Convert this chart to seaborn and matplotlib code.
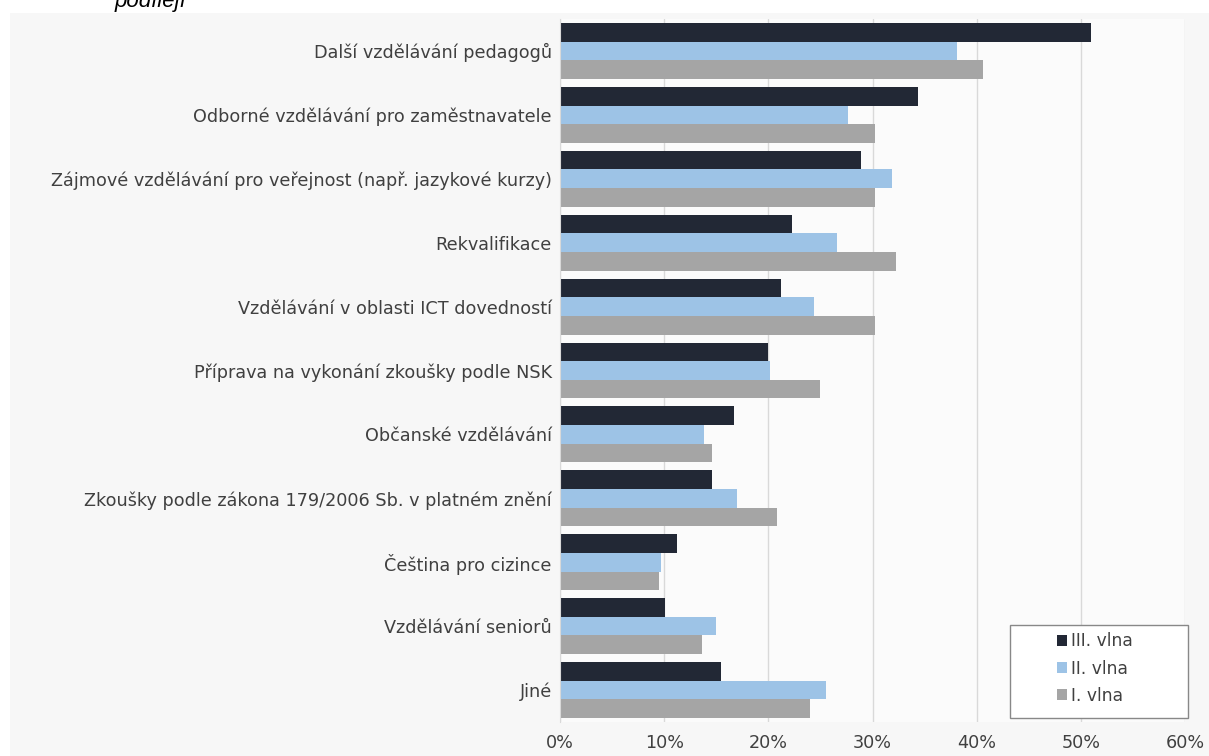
import numpy as np
import pandas as pd
import matplotlib
matplotlib.use("Agg")
import matplotlib.pyplot as plt
from matplotlib.patches import Rectangle
from matplotlib.ticker import FuncFormatter
import seaborn as sns

# Categories (top to bottom) and shares in % for each wave
categories = [
    "Další vzdělávání pedagogů",
    "Odborné vzdělávání pro zaměstnavatele",
    "Zájmové vzdělávání pro veřejnost (např. jazykové kurzy)",
    "Rekvalifikace",
    "Vzdělávání v oblasti ICT dovedností",
    "Příprava na vykonání zkoušky podle NSK",
    "Občanské vzdělávání",
    "Zkoušky podle zákona 179/2006 Sb. v platném znění",
    "Čeština pro cizince",
    "Vzdělávání seniorů",
    "Jiné",
]
wave3 = [51.0, 34.4, 28.9, 22.3, 21.2, 20.0, 16.7, 14.6, 11.2, 10.1, 15.5]
wave2 = [38.1, 27.6, 31.9, 26.6, 24.4, 20.2, 13.8, 17.0, 9.7, 15.0, 25.5]
wave1 = [40.6, 30.2, 30.2, 32.3, 30.2, 25.0, 14.6, 20.8, 9.5, 13.6, 24.0]
series = ["III. vlna", "II. vlna", "I. vlna"]
colors = ["#222835", "#9dc3e6", "#a5a5a5"]
xticks = [0, 10, 20, 30, 40, 50, 60]

df = pd.DataFrame({
    "kategorie": categories * 3,
    "podil": wave3 + wave2 + wave1,
    "vlna": [s for s in series for _ in categories],
})

sns.set_style("white")
plt.rcParams["font.family"] = ["DejaVu Sans"]

W, H = 1209, 756
fig = plt.figure(figsize=(W / 100, H / 100), dpi=100, facecolor="white")
# light chart area background
fig.patches.append(Rectangle((10 / W, 0), 1 - 10 / W, 1 - 13 / H,
                             transform=fig.transFigure, facecolor="#f7f7f7",
                             edgecolor="none", zorder=-10))
ax = fig.add_axes([560 / W, 1 - 722 / H, 625 / W, 703 / H])
ax.set_facecolor("#fbfbfb")

sns.barplot(data=df, x="podil", y="kategorie", hue="vlna", hue_order=series,
            order=categories, palette=colors, orient="h", width=0.876,
            saturation=1, edgecolor="none", ax=ax)

ax.set_xlim(0, 60)
ax.set_xticks(xticks)
ax.xaxis.set_major_formatter(FuncFormatter(lambda v, p: f"{v:.0f}%"))
ax.grid(axis="x", color="#d9d9d9", linewidth=1)
ax.set_axisbelow(True)
ax.set_xlabel("")
ax.set_ylabel("")
ax.tick_params(axis="both", length=0, labelsize=12.7, colors="#404040")
ax.tick_params(axis="x", pad=9)
ax.tick_params(axis="y", pad=6)
for s in ["top", "right", "bottom"]:
    ax.spines[s].set_visible(False)
ax.spines["left"].set_color("#d9d9d9")

# legend frame drawn separately (wide box with entries on its right side)
ax.add_patch(Rectangle(((1010 - 560) / 625, (722 - 718) / 703),
                       178 / 625, 93 / 703, transform=ax.transAxes,
                       facecolor="white", edgecolor="#888888", linewidth=1,
                       zorder=5, clip_on=False))
leg = ax.legend(loc="upper left",
                bbox_to_anchor=((1052 - 560) / 625, (722 - 627) / 703),
                frameon=False, fontsize=12.3, handlelength=0.6,
                handleheight=0.6, handletextpad=0.2, borderpad=0.3,
                labelspacing=0.55, borderaxespad=0)
leg.set_zorder(6)
for t in leg.get_texts():
    t.set_color("#404040")

fig.text(115 / W, 1 - 7 / H, "podílejí", fontsize=16, style="italic",
         family="Liberation Sans", ha="left", va="baseline", color="black")

fig.savefig("out.png", dpi=100, facecolor=fig.get_facecolor())
